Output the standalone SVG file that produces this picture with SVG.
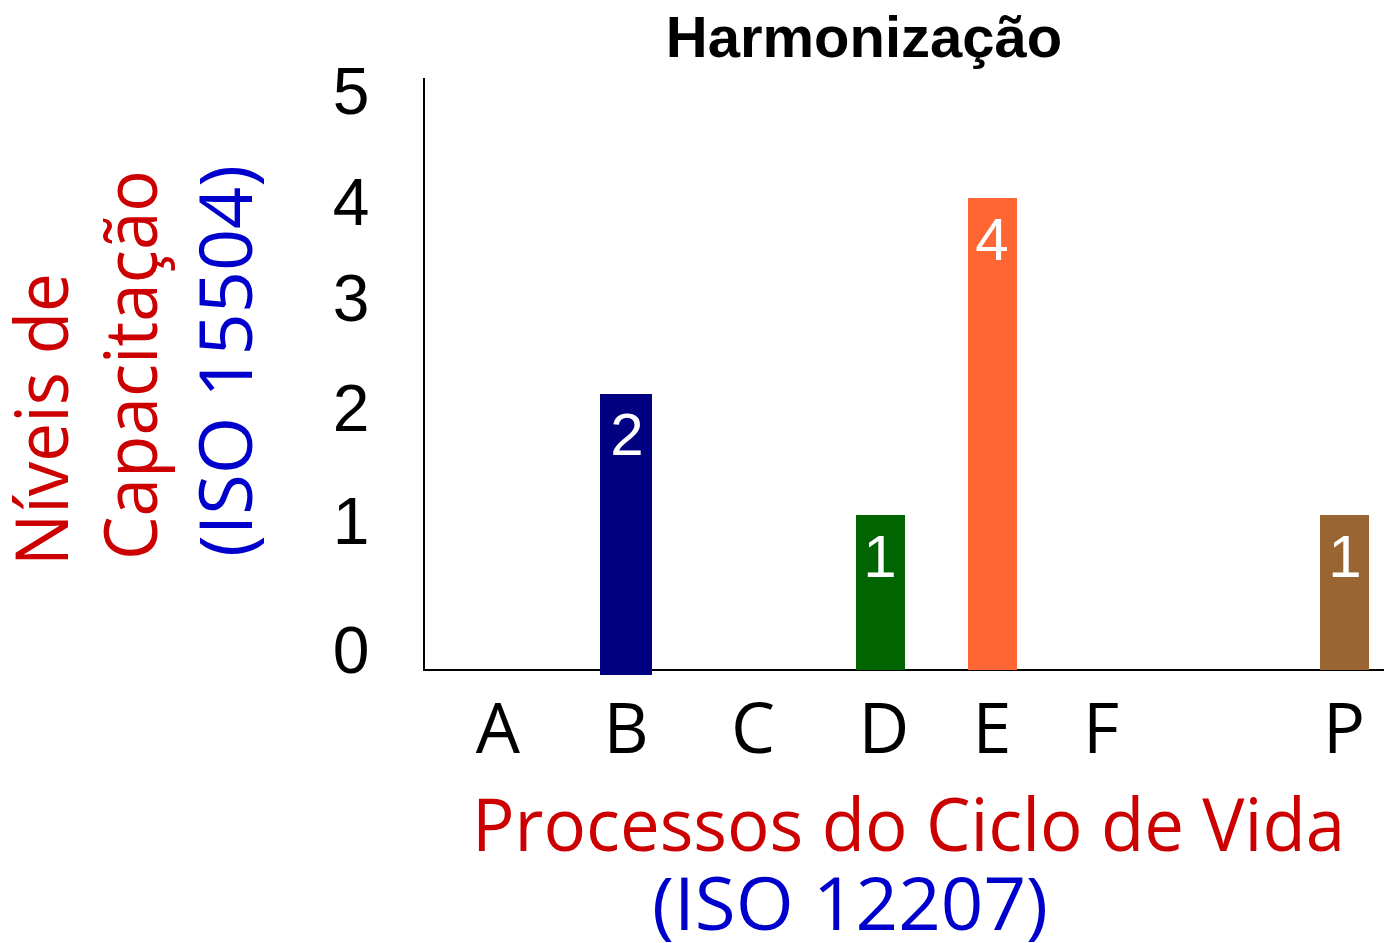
<svg xmlns="http://www.w3.org/2000/svg" width="1384" height="943" viewBox="0 0 1384 943">
<style>
.tick{font-family:"Liberation Sans",Arial,sans-serif;font-size:66px;fill:#000;text-anchor:middle}
.bl{font-family:"Liberation Sans",Arial,sans-serif;font-size:60px;fill:#fff;text-anchor:middle}
.xl{font-family:"Open Sans","Noto Sans",sans-serif;font-size:70px;fill:#000;text-anchor:middle}
.red{font-family:"Open Sans","Noto Sans",sans-serif;font-size:74px;fill:#CC0000}
.blue{font-family:"Open Sans","Noto Sans",sans-serif;font-size:74px;fill:#0000CC}
.title{font-family:"Liberation Sans",Arial,sans-serif;font-size:58px;font-weight:bold;fill:#000;text-anchor:middle}
</style>
<rect width="1384" height="943" fill="#fff"/>
<text class="title" x="864" y="57">Harmonização</text>
<g id="axes" stroke="#000" stroke-width="2" fill="none">
<line x1="424" y1="78" x2="424" y2="671"/>
<line x1="423" y1="670" x2="1384" y2="670"/>
</g>
<g id="yticks">
<text class="tick" x="351" y="114">5</text>
<text class="tick" x="351" y="225">4</text>
<text class="tick" x="351" y="321">3</text>
<text class="tick" x="351" y="431">2</text>
<text class="tick" x="351" y="544">1</text>
<text class="tick" x="351" y="673">0</text>
</g>
<g id="barB"><rect x="600" y="394" width="52" height="281" fill="#000080"/><text class="bl" x="627" y="455">2</text></g>
<g id="barD"><rect x="856" y="515" width="49" height="155" fill="#006400"/><text class="bl" x="880" y="577">1</text></g>
<g id="barE"><rect x="968" y="198" width="49" height="472" fill="#FF6633"/><text class="bl" x="992" y="260">4</text></g>
<g id="barP"><rect x="1320" y="515" width="49" height="155" fill="#996633"/><text class="bl" x="1345" y="577">1</text></g>
<g id="xlabels">
<text class="xl" x="498" y="753">A</text>
<text class="xl" x="626" y="753">B</text>
<text class="xl" x="753" y="753">C</text>
<text class="xl" x="884" y="753">D</text>
<text class="xl" x="992" y="753">E</text>
<text class="xl" x="1101" y="753">F</text>
<text class="xl" x="1344" y="753">P</text>
</g>
<g id="xtitle">
<text class="red" x="472" y="851" textLength="873" lengthAdjust="spacingAndGlyphs">Processos do Ciclo de Vida</text>
<text class="blue" x="652" y="930" textLength="396" lengthAdjust="spacingAndGlyphs">(ISO 12207)</text>
</g>
<g id="ytitle">
<text class="red" transform="translate(68,566) rotate(-90)" textLength="293" lengthAdjust="spacingAndGlyphs">Níveis de</text>
<text class="red" transform="translate(157,560) rotate(-90)" textLength="390" lengthAdjust="spacingAndGlyphs">Capacitação</text>
<text class="blue" transform="translate(252,557) rotate(-90)" textLength="392" lengthAdjust="spacingAndGlyphs">(ISO 15504)</text>
</g>
</svg>
